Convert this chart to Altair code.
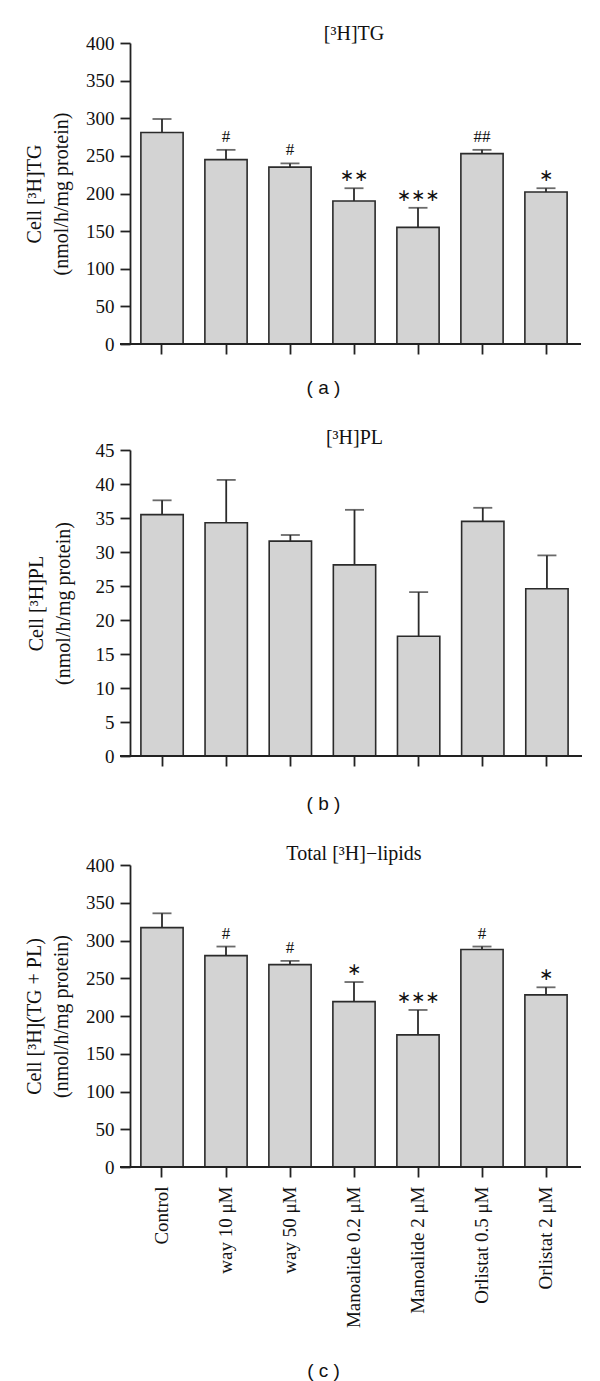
import altair as alt
import pandas as pd

groups = ["Control", "way 10 μM", "way 50 μM", "Manoalide 0.2 μM",
          "Manoalide 2 μM", "Orlistat 0.5 μM", "Orlistat 2 μM"]

tg_mean = [281, 245, 235, 190, 155, 253, 202]
tg_sem = [18, 13, 5, 17, 26, 5, 5]
tg_sig = ["", "#", "#", "∗∗", "∗∗∗", "##", "∗"]

pl_mean = [35.5, 34.3, 31.6, 28.1, 17.6, 34.5, 24.6]
pl_sem = [2.1, 6.3, 0.9, 8.1, 6.5, 2.0, 4.9]
pl_sig = ["", "", "", "", "", "", ""]

tot_mean = [317, 280, 268, 219, 175, 288, 228]
tot_sem = [19, 12, 5, 26, 33, 4, 10]
tot_sig = ["", "#", "#", "∗", "∗∗∗", "#", "∗"]

INK = "#222222"
SERIF = "Liberation Serif"


def panel(mean, sem, sig, title, ytitle, ymax, ystep, width, height,
          caption, caption_x, show_labels, title_dy, ytitle_pad, cap_pad):
    df = pd.DataFrame({"group": groups, "mean": mean, "sem": sem, "sig": sig})
    df["upper"] = df["mean"] + df["sem"]
    base = alt.Chart(df)

    x_axis = alt.Axis(
        labels=show_labels, labelAngle=-90, labelFont=SERIF, labelFontSize=19,
        labelColor="#111", labelPadding=9, ticks=True, tickSize=10,
        tickWidth=1.8, tickColor=INK, domain=False,
        title=caption, titleFont="Liberation Sans", titleFontSize=19,
        titleFontWeight="normal", titleColor="#111",
        titlePadding=cap_pad, titleX=caption_x,
    )
    xscale = alt.Scale(paddingInner=0.34, paddingOuter=0.17)
    x = alt.X("group:N", sort=groups, scale=xscale, axis=x_axis)
    xn = alt.X("group:N", sort=groups, scale=xscale)
    tick_values = [round(v * ystep, 6) for v in range(int(round(ymax / ystep)) + 1)]
    y_axis = alt.Axis(
        values=tick_values, tickCount=len(tick_values) + 1, labelOverlap=False,
        tickSize=10, tickWidth=1.8, tickColor=INK, domainColor=INK,
        domainWidth=1.8, labelFont=SERIF, labelFontSize=19, labelColor="#111",
        labelPadding=6, grid=False, title=ytitle, titleFont=SERIF,
        titleFontSize=20, titleFontWeight="normal", titleColor="#111",
        titleLineHeight=27, titlePadding=ytitle_pad,
    )
    yscale = alt.Scale(domain=[0, ymax], nice=False, zero=True)

    bars = base.mark_bar(fill="#d3d3d3", stroke="#2b2b2b",
                         strokeWidth=1.6).encode(
        x=x, y=alt.Y("mean:Q", scale=yscale, axis=y_axis))
    err = base.mark_rule(color="#2b2b2b", strokeWidth=1.8).encode(
        x=xn, y=alt.Y("mean:Q", scale=yscale), y2="upper:Q")
    cap = base.mark_tick(color="#2b2b2b", size=19, thickness=1.8).encode(
        x=xn, y=alt.Y("upper:Q", scale=yscale))
    hashes = base.transform_filter("indexof(datum.sig, '#') >= 0").mark_text(
        font=SERIF, fontSize=17, baseline="alphabetic", dy=-8, color="#111"
    ).encode(x=xn, y=alt.Y("upper:Q", scale=yscale), text="sig:N")
    stars = base.transform_filter("indexof(datum.sig, '∗') >= 0").mark_text(
        font="DejaVu Sans", fontSize=17, baseline="alphabetic", dy=-7,
        color="#111"
    ).encode(x=xn, y=alt.Y("upper:Q", scale=yscale), text="sig:N")
    xline = base.mark_rule(color=INK, strokeWidth=1.8).encode(
        x=alt.value(-10), x2=alt.value(width + 3), y=alt.value(height))

    return alt.layer(bars, err, cap, hashes, stars, xline).properties(
        width=width, height=height,
        title=alt.TitleParams(text=title, font=SERIF, fontSize=20,
                              fontWeight="normal", color="#111",
                              offset=2, dy=title_dy),
    )


pa = panel(tg_mean, tg_sem, tg_sig, "[³H]TG",
           ["Cell [³H]TG", "(nmol/h/mg protein)"], 400, 50, 448, 301,
           "( a )", 193, False, 12, 14, 24)
pb = panel(pl_mean, pl_sem, pl_sig, "[³H]PL",
           ["Cell [³H]PL", "(nmol/h/mg protein)"], 45, 5, 449, 306,
           "( b )", 193, False, 9, 22, 28)
pc = panel(tot_mean, tot_sem, tot_sig, "Total [³H]−lipids",
           ["Cell [³H](TG + PL)", "(nmol/h/mg protein)"], 400, 50, 448, 302,
           "( c )", 193, True, 10, 14, 34)

chart = alt.concat(pa, pb, pc, columns=1, spacing=30).properties(
    padding={"left": 16, "top": 16, "right": 5, "bottom": 0}
).configure_view(stroke=None)

chart.save("out.html", embed_options={"renderer": "svg", "actions": False})
